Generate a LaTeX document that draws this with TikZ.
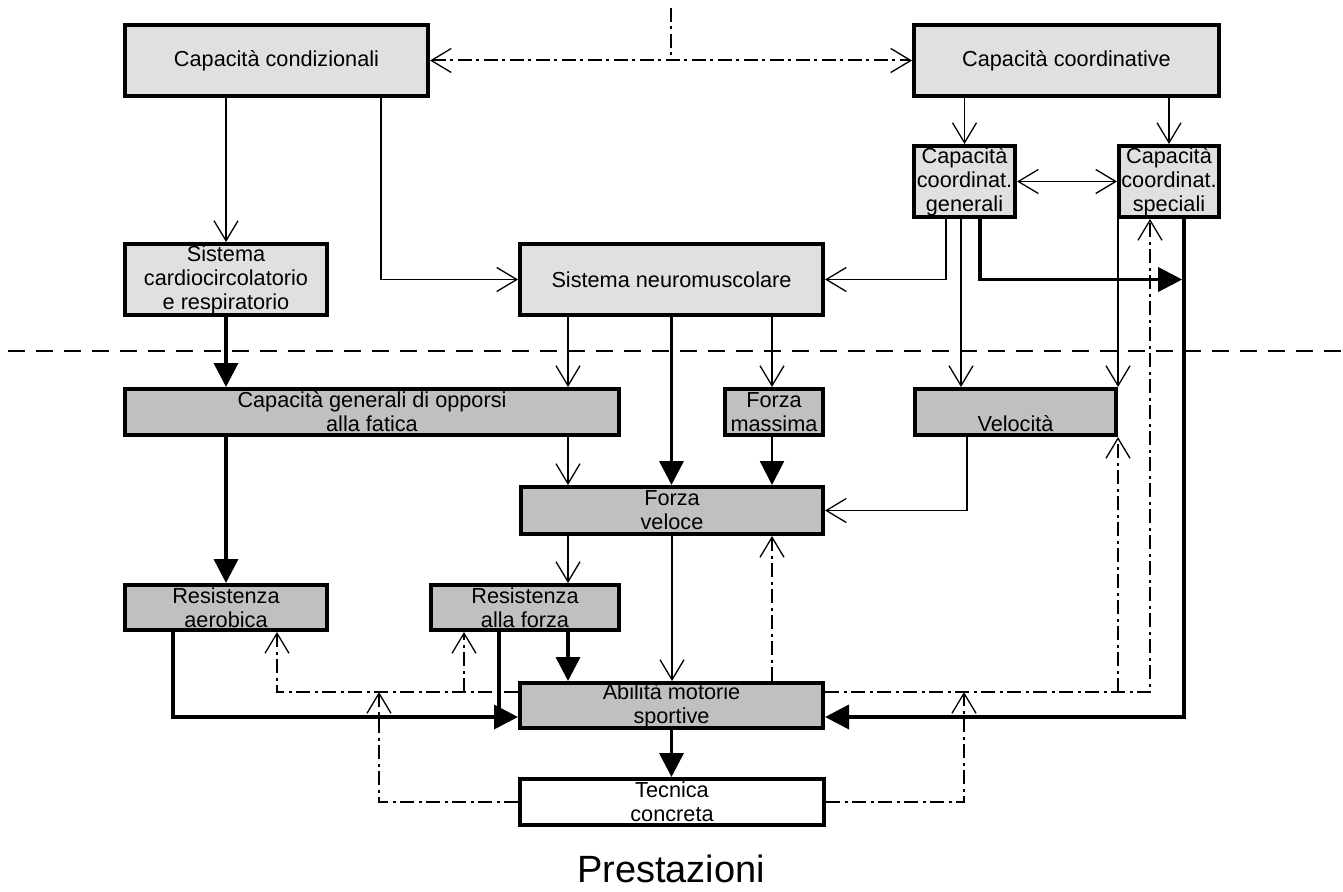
\documentclass[tikz,border=0pt]{standalone}
\usepackage{fontspec}
\setmainfont{Liberation Sans}
\usetikzlibrary{arrows.meta}
\definecolor{boxlight}{RGB}{224,224,224}
\definecolor{boxdark}{RGB}{192,192,192}
\newcommand\boxfont{\fontsize{21.7pt}{24pt}\selectfont}
\newcommand\titlefont{\fontsize{38pt}{40pt}\selectfont}

\begin{document}
\begin{tikzpicture}[x=1pt,y=-1pt,
  box/.style={draw, line width=4pt, inner sep=0pt, align=center, font=\boxfont},
  light/.style={box, fill=boxlight},
  dark/.style={box, fill=boxdark},
  plain/.style={box, fill=white},
  thinln/.style={line width=1.3pt},
  midln/.style={line width=2.4pt},
  thickln/.style={line width=3.6pt},
  dashdot/.style={line width=2pt, dash pattern=on 14pt off 4.5pt on 3pt off 4.5pt},
  level/.style={line width=2pt, dash pattern=on 17pt off 11pt},
  oarr/.style={-{Straight Barb[length=20pt,width=24pt,line width=1.3pt]}},
  oarrs/.style={{Straight Barb[length=20pt,width=24pt,line width=1.3pt]}-{Straight Barb[length=20pt,width=24pt,line width=1.3pt]}},
  farr/.style={-{Triangle[length=24pt,width=24pt]}},
]
\useasboundingbox (0,0) rectangle (1343,891);

% ---- boxes ----
\node[light, minimum width=303pt, minimum height=71pt] (cond)   at (276.5,60.5)  {Capacità condizionali};
\node[light, minimum width=305pt, minimum height=71pt] (coord)  at (1066.5,60.5) {Capacità coordinative};
\node[light, minimum width=101pt, minimum height=71pt] (gen)    at (964.5,181.5) {Capacità\\coordinat.\\generali};
\node[light, minimum width=100pt, minimum height=71pt] (spec)   at (1169,181.5)  {Capacità\\coordinat.\\speciali};
\node[light, minimum width=202pt, minimum height=71pt] (cardio) at (226,279.5)   {Sistema\\cardiocircolatorio\\e respiratorio};
\node[light, minimum width=303pt, minimum height=71pt] (neuro)  at (671.5,279.5) {Sistema neuromuscolare};
\node[dark, minimum width=494pt, minimum height=46pt] (fatica)  at (372,412)     {Capacità generali di opporsi\\alla fatica};
\node[dark, minimum width=98pt, minimum height=46pt]  (fmax)    at (774,412)     {Forza\\massima};
\node[dark, minimum width=201pt, minimum height=46pt] (vel)     at (1015.5,412)  {\phantom{Cg}\\Velocità};
\node[dark, minimum width=302pt, minimum height=47pt] (fvel)    at (672,510.5)   {Forza\\veloce};
\node[dark, minimum width=202pt, minimum height=45pt] (raer)    at (226,607.5)   {Resistenza\\aerobica};
\node[dark, minimum width=188pt, minimum height=45pt] (rfor)    at (525,607.5)   {Resistenza\\alla forza};
\node[dark, minimum width=303pt, minimum height=45pt] (abil)    at (671.5,705.5) {Abilità motorie\\sportive};
\node[plain, minimum width=304pt, minimum height=46pt] (tecn)   at (672,802)     {Tecnica\\concreta};
\node[font=\titlefont, inner sep=0pt] (prest) at (671,869) {Prestazioni};

% ---- guide columns and rows for routed connectors ----
\coordinate (cA) at (173,0);
\coordinate (cB) at (277,0);
\coordinate (cC) at (379,0);
\coordinate (cD) at (381,0);
\coordinate (cE) at (464,0);
\coordinate (cF) at (499,0);
\coordinate (cG) at (568,0);
\coordinate (cI) at (772,0);
\coordinate (cJ) at (946,0);
\coordinate (cK) at (961,0);
\coordinate (cL) at (964,0);
\coordinate (cM) at (967,0);
\coordinate (cN) at (980,0);
\coordinate (cO) at (1118,0);
\coordinate (cP) at (1150,0);
\coordinate (cQ) at (1184,0);
\coordinate (rDD) at (0,692);
\coordinate (rTH) at (0,717);
\coordinate (topmark) at (671,8);
\coordinate (lvlL) at (8,351);
\coordinate (lvlR) at (1343,351);

% ---- separating level line ----
\draw[level] (lvlL) -- (lvlR);

% ---- top level ----
\draw[dashdot] (topmark) -- (topmark |- cond.east);
\draw[dashdot, oarrs] (cond.east) -- (coord.west);
\draw[thinln, oarr] (coord.south -| gen.north) -- (gen.north);
\draw[thinln, oarr] (coord.south -| spec.north) -- (spec.north);
\draw[thinln, oarrs] (gen.east) -- (spec.west);
\draw[thinln, oarr] (cond.south -| cardio.north) -- (cardio.north);
\draw[thinln, oarr] (cond.south -| cD) |- (neuro.west);
\draw[thinln, oarr] (gen.south -| cJ) |- (neuro.east);
\draw[thinln, oarr] (gen.south -| cK) -- (vel.north -| cK);
\draw[thickln, farr, shorten >=1.8pt] (gen.south -| cN) |- (neuro.east -| cQ);
\draw[thinln, oarr] (spec.south -| cO) -- (vel.north -| cO);
\draw[thickln, farr] (spec.south -| cQ) |- (abil.east |- rTH);

% ---- middle level ----
\draw[thickln, farr] (cardio.south) -- (cardio.south |- fatica.north);
\draw[thinln, oarr] (neuro.south -| cG) -- (fatica.north -| cG);
\draw[thickln, farr] (neuro.south) -- (neuro.south |- fvel.north);
\draw[thinln, oarr] (neuro.south -| cI) -- (fmax.north -| cI);
\draw[thickln, farr] (fatica.south -| raer.north) -- (raer.north);
\draw[thinln, oarr] (fatica.south -| cG) -- (fvel.north -| cG);
\draw[midln, farr] (fmax.south -| cI) -- (fvel.north -| cI);
\draw[thinln, oarr] (vel.south -| cM) |- (fvel.east);
\draw[thinln, oarr] (fvel.south -| cG) -- (rfor.north -| cG);
\draw[thinln, oarr] (fvel.south) -- (fvel.south |- abil.north);
\draw[dashdot, oarr] (abil.north -| cI) -- (fvel.south -| cI);

% ---- lower level ----
\draw[thickln, farr] (rfor.south -| cG) -- (abil.north -| cG);
\draw[thickln, farr] (raer.south -| cA) |- (abil.west |- rTH);
\draw[thickln] (rfor.south -| cF) -- (cF |- rTH);
\draw[thickln, farr] (abil.south) -- (abil.south |- tecn.north);

% ---- feedback paths ----
\draw[dashdot, oarr] (abil.west |- rDD) -| (raer.south -| cB);
\draw[dashdot, oarr] (cE |- rDD) -- (rfor.south -| cE);
\draw[dashdot, oarr] (tecn.west) -| (cC |- rDD);
\draw[dashdot, oarr] (abil.east |- rDD) -| (spec.south -| cP);
\draw[dashdot, oarr] (cO |- rDD) -- (vel.south -| cO);
\draw[dashdot, oarr] (tecn.east) -| (cL |- rDD);
\end{tikzpicture}
\end{document}
